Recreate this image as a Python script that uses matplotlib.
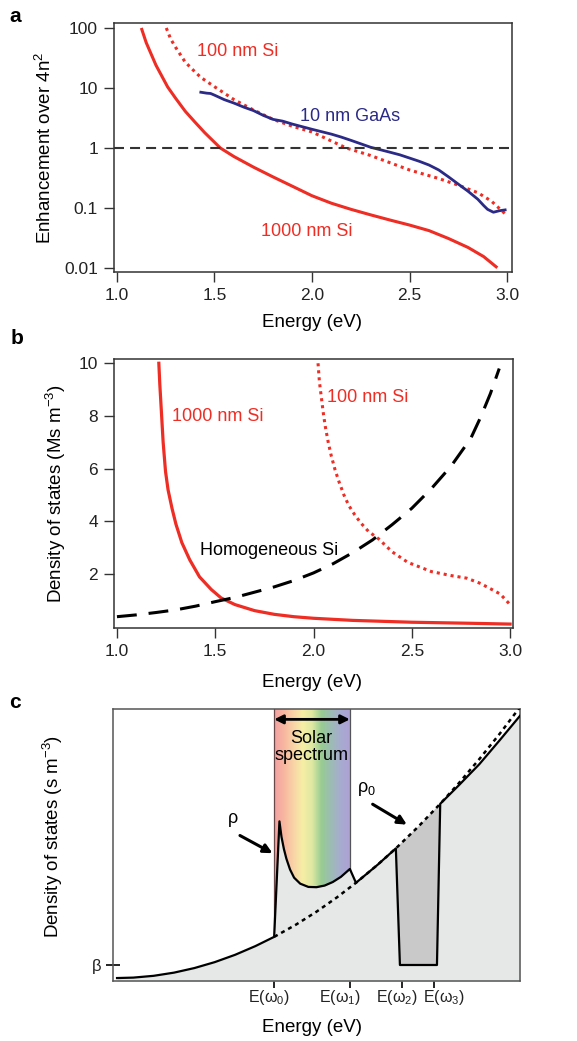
import numpy as np
import matplotlib.pyplot as plt
from matplotlib.colors import LinearSegmentedColormap

plt.rcParams['font.family'] = ['Liberation Sans', 'DejaVu Sans']
plt.rcParams['mathtext.fontset'] = 'custom'
plt.rcParams['mathtext.rm'] = 'Liberation Sans'
plt.rcParams['mathtext.it'] = 'Liberation Sans:italic'

RED = '#ee2d24'
NAVY = '#2b2a86'
FRAME = '#333333'

# ---- panel a : enhancement over 4n^2 ----
a_si1000_e = [1.125, 1.15, 1.2, 1.26, 1.3, 1.35, 1.4, 1.45, 1.53, 1.6, 1.7, 1.8, 1.9, 2.0, 2.1, 2.2,
              2.3, 2.4, 2.5, 2.6, 2.7, 2.8, 2.88, 2.95]
a_si1000_v = [100, 57, 24, 10.4, 6.8, 4.1, 2.7, 1.8, 1.0, 0.72, 0.48, 0.33, 0.23, 0.16, 0.12, 0.095,
              0.077, 0.063, 0.052, 0.042, 0.031, 0.022, 0.0155, 0.0101]
a_si100_e = [1.253, 1.275, 1.3, 1.325, 1.35, 1.39, 1.43, 1.5, 1.6, 1.7, 1.8, 1.9, 2.0, 2.176, 2.3, 2.5,
             2.65, 2.75, 2.85, 2.92, 2.99]
a_si100_v = [100, 66, 48, 36, 27, 20, 15, 10.5, 6.4, 4.3, 3.0, 2.3, 1.85, 1.0, 0.75, 0.43,
             0.31, 0.24, 0.18, 0.13, 0.08]
a_gaas_e = [1.43, 1.46, 1.48, 1.5, 1.55, 1.6, 1.65, 1.7, 1.75, 1.8, 1.85, 1.9, 2.0, 2.1, 2.15, 2.2, 2.3, 2.4,
            2.45, 2.5, 2.55, 2.6, 2.65, 2.7, 2.75, 2.8, 2.85, 2.88, 2.9, 2.93, 2.96, 2.99]
a_gaas_v = [8.5, 8.2, 8.1, 7.6, 6.4, 5.6, 4.8, 4.2, 3.5, 3.0, 2.8, 2.5, 2.05, 1.7, 1.52, 1.34, 1.03, 0.85,
            0.77, 0.68, 0.6, 0.52, 0.43, 0.33, 0.25, 0.19, 0.14, 0.11, 0.095, 0.085, 0.09, 0.093]

# ---- panel b : density of states ----
b_si1000_e = [1.213, 1.218, 1.225, 1.235, 1.247, 1.26, 1.28, 1.3, 1.33, 1.37, 1.42, 1.48, 1.53, 1.6, 1.7,
              1.8, 1.9, 2.0, 2.2, 2.5, 2.8, 3.0]
b_si1000_v = [10, 9.2, 8.3, 7.0, 5.9, 5.2, 4.5, 3.9, 3.2, 2.55, 1.9, 1.42, 1.1, 0.85, 0.62,
              0.48, 0.39, 0.33, 0.25, 0.18, 0.14, 0.11]
b_si100_e = [2.023, 2.03, 2.04, 2.05, 2.06, 2.075, 2.09, 2.11, 2.13, 2.155, 2.18, 2.21, 2.24, 2.28, 2.33,
             2.4, 2.48, 2.6, 2.7, 2.78, 2.85, 2.9, 2.95, 3.0]
b_si100_v = [10, 9.3, 8.7, 8.1, 7.6, 7.0, 6.5, 5.95, 5.5, 5.0, 4.6, 4.25, 3.95, 3.62, 3.35,
             2.85, 2.45, 2.1, 1.95, 1.85, 1.65, 1.45, 1.25, 0.85]
b_homo_e = [1.0, 1.1, 1.2, 1.3, 1.4, 1.5, 1.6, 1.7, 1.8, 1.9, 2.0, 2.1, 2.2, 2.3, 2.4, 2.5, 2.6, 2.7,
            2.8, 2.85, 2.9, 2.945]
b_homo_v = [0.39, 0.46, 0.55, 0.65, 0.79, 0.96, 1.12, 1.32, 1.52, 1.76, 2.05, 2.4, 2.82, 3.3, 3.88, 4.5,
            5.25, 6.1, 7.15, 7.95, 8.85, 9.8]

# ---- panel c : schematic (arbitrary units) ----
c_ticks = [3.96, 5.82, 7.1, 7.89]
c_label_x = [3.83, 5.58, 6.98, 8.13]
c_ticklabels = ['E(ω$_0$)', 'E(ω$_1$)', 'E(ω$_2$)', 'E(ω$_3$)']
c_beta = 0.59
c_rho0_x = [3.96, 4.5, 5.0, 5.5, 5.97, 6.5, 6.95, 7.5, 8.04, 8.5, 9.0, 9.5, 10.0]
c_rho0_y = [1.624, 2.077, 2.549, 3.073, 3.611, 4.272, 4.877, 5.674, 6.515, 7.279, 8.158, 9.087, 10.07]
c_rho_x = [0.1, 0.5, 1.0, 1.5, 2.0, 2.5, 3.0, 3.5, 3.96, 4.09, 4.14, 4.2, 4.26, 4.35, 4.45, 4.6, 4.8, 5.0,
           5.2, 5.4, 5.6, 5.82, 5.97, 6.5, 6.95, 7.05, 7.96, 8.04, 8.5, 9.0, 9.5, 10.0]
c_rho_y = [0.11, 0.126, 0.192, 0.309, 0.477, 0.695, 0.964, 1.285, 1.624, 5.87, 5.3, 4.85, 4.5, 4.1, 3.8,
           3.58, 3.46, 3.45, 3.51, 3.64, 3.83, 4.12, 3.611, 4.272, 4.877, 0.59, 0.59, 6.515, 7.2, 7.97, 8.85, 9.75]
c_gap_x = [6.95, 7.5, 8.04, 7.96, 7.05]
c_gap_y = [4.877, 5.674, 6.515, 0.59, 0.59]
solar_colors = ['#f2a0a2', '#f7b6a0', '#f9d2a6', '#f7eea6', '#dfe9a2', '#97cc92', '#9cbcb4', '#a7acd0', '#ada2d4']


def frame(ax):
    for s in ax.spines.values():
        s.set_color(FRAME)
        s.set_linewidth(1.1)
    ax.tick_params(direction='out', length=7.5, width=1.0, color=FRAME,
                   labelsize=12.5, labelcolor='#222222', pad=4)
    ax.minorticks_off()


fig = plt.figure(figsize=(5.77, 10.41), dpi=100)

# panel a
ax = fig.add_axes([0.1976, 0.7387, 0.690, 0.2392])
ax.set_yscale('log')
ax.plot(a_si1000_e, a_si1000_v, color=RED, lw=2.2, solid_capstyle='butt')
ax.plot(a_si100_e, a_si100_v, color=RED, lw=2.2, ls=(0, (1, 1.3)))
ax.plot(a_gaas_e, a_gaas_v, color=NAVY, lw=2.0)
ax.axhline(1, color='#333333', lw=1.5, ls=(0, (4.8, 2.9)))
ax.set_xlim(0.985, 3.026)
ax.set_ylim(0.00858, 121)
ax.set_yticks([0.01, 0.1, 1, 10, 100])
ax.set_yticklabels(['0.01', '0.1', '1', '10', '100'])
ax.set_xticks([1.0, 1.5, 2.0, 2.5, 3.0])
ax.set_xticklabels(['1.0', '1.5', '2.0', '2.5', '3.0'])
frame(ax)
ax.set_xlabel('Energy (eV)', fontsize=13.5)
ax.set_ylabel('Enhancement over 4n$^2$', fontsize=13.5)
ax.xaxis.set_label_coords(0.497, -0.17)
ax.yaxis.set_label_coords(-0.147, 0.5)
ax.text(1.41, 40, '100 nm Si', color=RED, fontsize=13, va='center')
ax.text(1.94, 3.4, '10 nm GaAs', color=NAVY, fontsize=13, va='center')
ax.text(1.74, 0.04, '1000 nm Si', color=RED, fontsize=13, va='center')

# panel b
ax = fig.add_axes([0.1976, 0.3967, 0.6915, 0.2584])
ax.plot(b_si1000_e, b_si1000_v, color=RED, lw=2.3)
ax.plot(b_si100_e, b_si100_v, color=RED, lw=2.2, ls=(0, (1, 1.3)))
ax.plot(b_homo_e, b_homo_v, color='black', lw=2.2, ls=(0, (6.5, 3.9)))
ax.set_xlim(0.985, 3.015)
ax.set_ylim(-0.04, 10.16)
ax.set_yticks([2, 4, 6, 8, 10])
ax.set_xticks([1.0, 1.5, 2.0, 2.5, 3.0])
ax.set_xticklabels(['1.0', '1.5', '2.0', '2.5', '3.0'])
frame(ax)
ax.set_xlabel('Energy (eV)', fontsize=13.5)
ax.set_ylabel('Density of states (Ms m$^{-3}$)', fontsize=13.5)
ax.xaxis.set_label_coords(0.497, -0.172)
ax.yaxis.set_label_coords(-0.115, 0.5)
ax.text(1.28, 8.0, '1000 nm Si', color=RED, fontsize=13, va='center')
ax.text(2.07, 8.7, '100 nm Si', color=RED, fontsize=13, va='center')
ax.text(1.42, 2.9, 'Homogeneous Si', color='black', fontsize=13, va='center')

# panel c
ax = fig.add_axes([0.1958, 0.0576, 0.7054, 0.2613])
cmap = LinearSegmentedColormap.from_list('solar', solar_colors)
ax.imshow(np.linspace(0, 1, 256)[None, :], cmap=cmap, aspect='auto',
          extent=[c_ticks[0], c_ticks[1], 0, 10], zorder=0)
ax.plot([c_ticks[0], c_ticks[0]], [0, 10], color='#6a4848', lw=0.9, zorder=1)
ax.plot([c_ticks[1], c_ticks[1]], [0, 10], color='#555555', lw=0.9, zorder=1)
ax.fill_between(c_rho_x, 0, c_rho_y, color='#e6e8e8', lw=0, zorder=2)
ax.fill(c_gap_x, c_gap_y, color='#c9c9c9', lw=0, zorder=3)
ax.plot(c_rho0_x, c_rho0_y, color='black', lw=1.8, ls=(0, (1.6, 1.6)), zorder=4)
ax.plot(c_rho_x, c_rho_y, color='black', lw=1.6, zorder=5)
ax.annotate('', xy=(c_ticks[1], 9.62), xytext=(c_ticks[0], 9.62),
            arrowprops=dict(arrowstyle='<|-|>', color='black', lw=2.0, mutation_scale=13,
                            shrinkA=0, shrinkB=0), zorder=6)
ax.text(4.88, 8.6, 'Solar\nspectrum', ha='center', va='center', fontsize=13, linespacing=1.05)
ax.annotate('', xy=(3.92, 4.7), xytext=(3.12, 5.35),
            arrowprops=dict(arrowstyle='-|>', color='black', lw=2.2, mutation_scale=13,
                            shrinkA=0, shrinkB=0))
ax.text(2.95, 5.98, 'ρ', ha='center', va='center', fontsize=13)
ax.annotate('', xy=(7.22, 5.75), xytext=(6.38, 6.5),
            arrowprops=dict(arrowstyle='-|>', color='black', lw=2.2, mutation_scale=13,
                            shrinkA=0, shrinkB=0))
ax.text(6.22, 7.05, 'ρ$_0$', ha='center', va='center', fontsize=13)
ax.set_xlim(0, 10)
ax.set_ylim(0, 10)
for s in ax.spines.values():
    s.set_color('#555555')
    s.set_linewidth(1.1)
ax.set_xticks(c_ticks)
ax.set_xticklabels([''] * len(c_ticks))
for lx, lab in zip(c_label_x, c_ticklabels):
    ax.text(lx, -0.62, lab, ha='center', va='center', fontsize=11.5, color='#222222', clip_on=False)
ax.set_yticks([c_beta])
ax.set_yticklabels(['β'])
ax.tick_params(direction='inout', length=10, width=1.2, color='black', labelsize=12,
               labelcolor='#222222', pad=3)
ax.set_xlabel('Energy (eV)', fontsize=13.5)
ax.set_ylabel('Density of states (s m$^{-3}$)', fontsize=13.5)
ax.xaxis.set_label_coords(0.49, -0.14)
ax.yaxis.set_label_coords(-0.118, 0.53)

fig.text(15 / 577, 1 - 17 / 1041, 'a', fontsize=15, fontweight='bold', ha='center', va='center')
fig.text(17 / 577, 1 - 338 / 1041, 'b', fontsize=15, fontweight='bold', ha='center', va='center')
fig.text(15 / 577, 1 - 703 / 1041, 'c', fontsize=15, fontweight='bold', ha='center', va='center')

fig.savefig('out.png', dpi=100)
